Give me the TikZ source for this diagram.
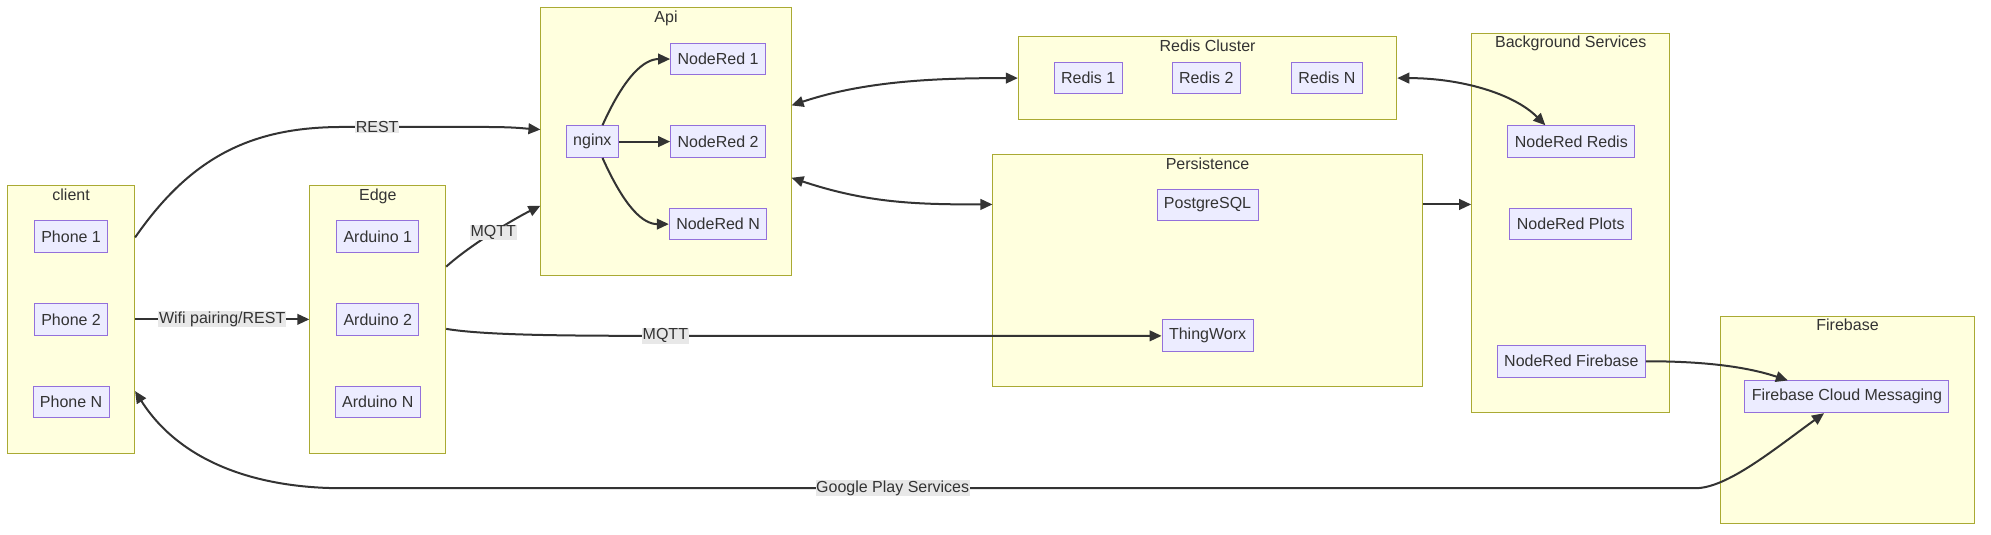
\documentclass[tikz,border=0pt]{standalone}
\usepackage{fontspec}
\setmainfont{Liberation Sans}
\usetikzlibrary{arrows.meta,calc}

\definecolor{groupfill}{HTML}{FFFFDE}
\definecolor{groupline}{HTML}{AAAA33}
\definecolor{boxfill}{HTML}{ECECFF}
\definecolor{boxline}{HTML}{9370DB}
\definecolor{ink}{HTML}{333333}
\definecolor{tagfill}{HTML}{E8E8E8}

\tikzset{
  group/.style 2 args={draw=groupline, fill=groupfill, rectangle, line width=0.75pt,
    minimum width=#1*0.9524pt, minimum height=#2*0.9524pt, inner sep=0pt},
  grouptitle/.style={anchor=north, inner xsep=1pt, inner ysep=2.5pt, text=ink},
  box/.style={draw=boxline, fill=boxfill, rectangle, line width=0.75pt,
    minimum height=23.8pt, inner xsep=5.2pt, inner ysep=0pt, text=ink},
  link/.style={draw=ink, line width=1.5pt, -{Triangle[length=9pt,width=8pt]}},
  both/.style={draw=ink, line width=1.5pt, {Triangle[length=9pt,width=8pt]}-{Triangle[length=9pt,width=8pt]}},
  tag/.style={fill=tagfill, inner sep=0.5pt, text=ink},
}

\begin{document}
\begin{tikzpicture}[x=0.9524pt, y=-0.9524pt, font=\fontsize{12pt}{14pt}\selectfont]
\useasboundingbox (0,0) rectangle (1568,421);
% groups
\node[group={100}{211}] (client) at (56,251.5) {};
\node[grouptitle] (clientT) at (client.north) {client};
\node[group={107}{211}] (edge) at (297.5,251.5) {};
\node[grouptitle] (edgeT) at (edge.north) {Edge};
\node[group={197}{211}] (api) at (524.5,111.5) {};
\node[grouptitle] (apiT) at (api.north) {Api};
\node[group={298}{65}] (redis) at (951,61.5) {};
\node[grouptitle] (redisT) at (redis.north) {Redis Cluster};
\node[group={338}{182}] (persist) at (951,213) {};
\node[grouptitle] (persistT) at (persist.north) {Persistence};
\node[group={156}{299}] (bg) at (1237,175.5) {};
\node[grouptitle] (bgT) at (bg.north) {Background Services};
\node[group={200}{163}] (firebase) at (1455,330.5) {};
\node[grouptitle] (firebaseT) at (firebase.north) {Firebase};
% nodes
\node[box] (phone1) at (56,186.5) {Phone 1};
\node[box] (phone2) at (56,251.5) {Phone 2};
\node[box] (phoneN) at (56,316.5) {Phone N};
\node[box] (ard1) at (297.5,186.5) {Arduino 1};
\node[box] (ard2) at (297.5,251.5) {Arduino 2};
\node[box] (ardN) at (297.5,316.5) {Arduino N};
\node[box] (nginx) at (466.5,111.5) {nginx};
\node[box] (nr1) at (565.5,46.5) {NodeRed 1};
\node[box] (nr2) at (565.5,111.5) {NodeRed 2};
\node[box] (nrN) at (565.5,176.5) {NodeRed N};
\node[box] (redis1) at (857,61.5) {Redis 1};
\node[box] (redis2) at (950,61.5) {Redis 2};
\node[box] (redisN) at (1045,61.5) {Redis N};
\node[box] (postgres) at (951,161.5) {PostgreSQL};
\node[box] (thingworx) at (951,264.5) {ThingWorx};
\node[box] (nrredis) at (1237.5,111.5) {NodeRed Redis};
\node[box] (nrplots) at (1237,176.5) {NodeRed Plots};
\node[box] (nrfirebase) at (1237.5,284.5) {NodeRed Firebase};
\node[box] (fcm) at (1454.5,312.5) {Firebase Cloud Messaging};
% connectors
\draw[link] ($(client.east)+(0,-64.5)$) .. controls +(45,-65) and +(-70,0) .. (270,100)
  -- (380,100) .. controls +(25,0) and +(-15,-1) .. ($(api.west)+(0,-9.5)$);
\node[tag] (lRest) at (297,100) {REST};
\draw[link] (client.east) -- (edge.west)
  node[tag, midway] (lWifi) {Wifi pairing/REST};
\draw[link] ($(edge.east)+(0,-41.5)$) .. controls +(20,-18) and +(-20,10) .. ($(api.west)+(0,50.5)$)
  node[tag, pos=0.5] (lMqttA) {MQTT};
\draw[link] ($(edge.east)+(0,7.5)$) .. controls +(30,5) and +(-80,0) .. (524,264.5) -- (thingworx.west);
\node[tag] (lMqttB) at (524,264.5) {MQTT};
\draw[link] ($(nginx.north)+(8,0)$) .. controls +(18,-40) and +(-20,0) .. (nr1.west);
\draw[link] (nginx.east) -- (nr2.west);
\draw[link] ($(nginx.south)+(8,0)$) .. controls +(18,40) and +(-20,0) .. (nrN.west);
\draw[both] ($(api.east)+(0,-28.5)$) .. controls +(60,-20) and +(-60,0) .. (redis.west);
\draw[both] ($(api.east)+(0,28.5)$) .. controls +(60,20) and +(-60,0) .. ($(persist.west)+(0,-52)$);
\draw[link] ($(persist.east)+(0,-52)$) -- ($(bg.west)+(0,-14.5)$);
\draw[both] (redis.east) .. controls +(50,0) and +(-25,-25) .. ($(nrredis.north)+(-20.5,0)$);
\draw[link] (nrfirebase.east) .. controls +(50,0) and +(-30,-10) .. ($(fcm.north)+(-46.5,0)$);
\draw[both] ($(client.east)+(0,56.5)$) .. controls +(35,55) and +(-70,0) .. (270,384.5)
  -- (1335,384.5) .. controls +(25,0) and +(-40,29) .. ($(fcm.south)+(-18,0)$);
\node[tag] (lPlay) at (703,384.5) {Google Play Services};
\end{tikzpicture}
\end{document}
